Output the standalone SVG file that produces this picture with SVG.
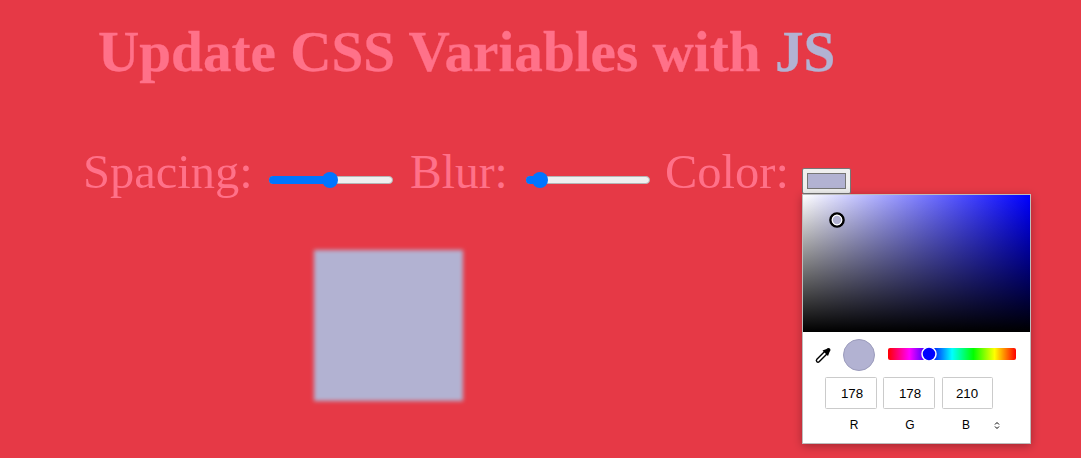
<svg xmlns="http://www.w3.org/2000/svg" width="1081" height="458" viewBox="0 0 1081 458">
<defs>
<style>
.h{font-family:"Liberation Serif","Times New Roman",serif;font-size:57.2px;font-weight:bold;fill:#ff7189;stroke:#ff7189;stroke-width:.3px}
.l{font-family:"Liberation Serif","Times New Roman",serif;font-size:48.5px;fill:#ff7189}
.v{font-family:"Liberation Sans",Arial,sans-serif;font-size:13.3px;fill:#000;text-anchor:middle}
.c{font-family:"Liberation Sans",Arial,sans-serif;font-size:12px;fill:#000;text-anchor:middle}
.box{fill:#fff;stroke:#cbcbcb;stroke-width:1}
.track{fill:#efefef;stroke:#b5b5b5;stroke-width:1}
.fill{fill:#0075ff}
</style>
<linearGradient id="sat" x1="0" x2="1" y1="0" y2="0"><stop offset="0" stop-color="#fff"/><stop offset="1" stop-color="#00f"/></linearGradient>
<linearGradient id="val" x1="0" x2="0" y1="0" y2="1"><stop offset="0" stop-color="#000" stop-opacity="0"/><stop offset="1" stop-color="#000"/></linearGradient>
<linearGradient id="hue" x1="0" x2="1" y1="0" y2="0"><stop offset="0" stop-color="#f00"/><stop offset=".167" stop-color="#f0f"/><stop offset=".333" stop-color="#00f"/><stop offset=".5" stop-color="#0ff"/><stop offset=".667" stop-color="#0f0"/><stop offset=".833" stop-color="#ff0"/><stop offset="1" stop-color="#f00"/></linearGradient>
<filter id="blur" x="-10%" y="-10%" width="120%" height="120%"><feGaussianBlur stdDeviation="2"/></filter>
<filter id="shadow" x="-10%" y="-10%" width="120%" height="120%"><feDropShadow dx="0" dy="2" stdDeviation="5" flood-color="#000" flood-opacity=".3"/></filter>
</defs>
<rect width="1081" height="458" fill="#e63946"/>
<g id="title"><text class="h" x="98" y="71">Update CSS Variables with <tspan fill="#b2b2d2" stroke="#b2b2d2">JS</tspan></text></g>
<g id="spacing-label"><text class="l" x="83" y="188">Spacing:</text></g>
<g id="spacing-slider">
<rect class="track" x="269.500" y="176.500" width="123" height="7" rx="3.500"/>
<rect class="fill" x="269" y="176" width="62" height="8" rx="4"/>
<circle class="fill" cx="330" cy="180" r="8"/>
</g>
<g id="blur-label"><text class="l" x="410" y="188" style="font-size:47.500px">Blur:</text></g>
<g id="blur-slider">
<rect class="track" x="526.500" y="176.500" width="123" height="7" rx="3.500"/>
<rect class="fill" x="526" y="176" width="14" height="8" rx="4"/>
<circle class="fill" cx="540" cy="180" r="8"/>
</g>
<g id="color-label"><text class="l" x="665" y="188">Color:</text></g>
<g id="color-input">
<rect x="802.500" y="168.500" width="48" height="25" rx="1.500" fill="#efefef" stroke="#767676"/>
<rect x="807.500" y="173.500" width="38" height="15" fill="#b2b2d2" stroke="#767676"/>
</g>
<g id="blurred-square"><rect x="314" y="250" width="149" height="151" fill="#b2b2d2" filter="url(#blur)"/></g>
<g id="color-picker">
<rect x="802.500" y="194.500" width="228" height="249" fill="#fff" stroke="#bdbdbd" filter="url(#shadow)"/>
<rect x="803" y="195" width="227" height="137" fill="url(#sat)"/>
<rect x="803" y="195" width="227" height="137" fill="url(#val)"/>
<circle cx="837" cy="220" r="6.500" fill="#b2b2d2" stroke="#000" stroke-width="2.600"/>
<circle cx="837" cy="220" r="4.800" fill="none" stroke="#fff" stroke-width="1.200"/>
<path d="M818 360.500L825.500 353" fill="none" stroke="#000" stroke-width="4.600" stroke-linecap="round"/>
<path d="M818 360.500L825.500 353" fill="none" stroke="#fff" stroke-width="1.800" stroke-linecap="round"/>
<path d="M822.500 350.500l4-1.500c1-1.300 2.600-1.300 3.400-.400.800.800.800 2.400-.400 3.400l-1.500 4z" fill="#000"/>
<circle cx="859" cy="355" r="15.500" fill="#b2b2d2" stroke="#9c9cbc" stroke-width="1"/>
<rect x="888" y="348" width="128" height="12" rx="2" fill="url(#hue)"/>
<circle cx="929" cy="354" r="7" fill="#00f" stroke="#fff" stroke-width="1.500"/>
<rect class="box" x="825.500" y="377.500" width="51" height="31" rx="1"/>
<rect class="box" x="883.500" y="377.500" width="51" height="31" rx="1"/>
<rect class="box" x="942.500" y="377.500" width="50" height="31" rx="1"/>
<text class="v" x="852" y="398">178</text>
<text class="v" x="910" y="398">178</text>
<text class="v" x="967" y="398">210</text>
<text class="c" x="854" y="429">R</text>
<text class="c" x="910" y="429">G</text>
<text class="c" x="966" y="429">B</text>
<path d="M995 424.500l2-2 2 2M995 426.500l2 2 2-2" fill="none" stroke="#000" stroke-width="1"/>
</g>
</svg>
